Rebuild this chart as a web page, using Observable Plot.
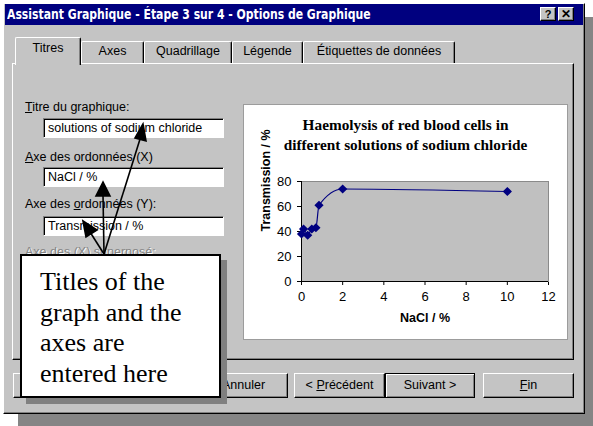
<!DOCTYPE html>
<html><head><meta charset="utf-8">
<script src="https://cdn.jsdelivr.net/npm/d3@7"></script>
<script src="https://cdn.jsdelivr.net/npm/@observablehq/plot@0.6"></script>
<style>
html,body{margin:0;padding:0;background:#fff;}
#root{position:relative;width:593px;height:426px;overflow:hidden;font-family:"Liberation Sans",Arial,sans-serif;font-size:12.5px;color:#000;background:#fff;}
.a{position:absolute;box-sizing:border-box;}
.dlg{background:#c4c4c4;}
.raised{border-top:1px solid #fff;border-left:1px solid #fff;border-right:1px solid #000;border-bottom:1px solid #000;box-shadow:inset -1px -1px 0 #808080;}
.tab{background:#c4c4c4;border-top:1px solid #fff;border-left:1px solid #fff;border-right:1px solid #000;box-shadow:inset -1px 0 0 #808080;text-align:center;line-height:18px;border-radius:2px 2px 0 0;}
.field{background:#fff;border-top:1px solid #808080;border-left:1px solid #808080;border-right:1px solid #fff;border-bottom:1px solid #fff;box-shadow:inset 1px 1px 0 #000;padding-left:4px;line-height:18px;white-space:nowrap;overflow:hidden;}
.field.dis{background:#c4c4c4;}
.lbl{line-height:15px;white-space:nowrap;}
.btn{text-align:center;line-height:23px;}
.u{text-decoration:underline;}
</style></head>
<body><div id="root">
  <div class="a" style="left:18px;top:17px;width:600px;height:420px;background:#858585;"></div>
  <div class="a dlg raised" style="left:3px;top:3px;width:582px;height:411px;"></div>
  <div class="a" style="left:5px;top:4px;width:578px;height:21px;background:#00007f;"></div>
  <div class="a" style="left:7px;top:4px;height:21px;line-height:21px;color:#fff;font-family:'Liberation Sans Narrow','DejaVu Sans Condensed',sans-serif;font-weight:bold;font-size:14px;white-space:nowrap;transform:scaleX(0.862);transform-origin:0 50%;">Assistant Graphique - Étape 3 sur 4 - Options de Graphique</div>
  <div class="a dlg raised" style="left:540px;top:7px;width:16px;height:14px;font-weight:bold;font-size:11px;line-height:12px;text-align:center;">?</div>
  <div class="a dlg raised" style="left:558px;top:7px;width:16px;height:14px;font-weight:bold;font-size:12px;line-height:12px;text-align:center;">✕</div>

  <div class="a dlg" style="left:12px;top:63px;width:562px;height:297px;border-top:1px solid #fff;border-left:1px solid #fff;border-right:1px solid #000;border-bottom:1px solid #000;box-shadow:inset -1px -1px 0 #808080;"></div>
  <div class="a tab" style="left:81px;top:41px;width:63px;height:22px;">Axes</div>
  <div class="a tab" style="left:144px;top:41px;width:88px;height:22px;">Quadrillage</div>
  <div class="a tab" style="left:232px;top:41px;width:71px;height:22px;">Légende</div>
  <div class="a tab" style="left:303px;top:41px;width:152px;height:22px;">Étiquettes de données</div>
  <div class="a tab" style="left:15px;top:37px;width:66px;height:28px;line-height:20px;z-index:2;">Titres</div>

  <div class="a lbl" style="left:25px;top:100px;"><span class="u">T</span>itre du graphique:</div>
  <div class="a field" style="left:43px;top:118px;width:181px;height:20px;">solutions of sodium chloride</div>
  <div class="a lbl" style="left:25px;top:150px;"><span class="u">A</span>xe des ordonnées (X)</div>
  <div class="a field" style="left:43px;top:167px;width:181px;height:20px;">NaCl / %</div>
  <div class="a lbl" style="left:25px;top:197px;">Axe des <span class="u">o</span>rdonnées (Y):</div>
  <div class="a field" style="left:43px;top:216px;width:181px;height:20px;">Transmission / %</div>
  <div class="a lbl" style="left:25px;top:245px;color:#858585;text-shadow:1px 1px 0 #fff;">Axe des (X) superposé:</div>
  <div class="a field dis" style="left:43px;top:263px;width:183px;height:21px;"></div>
  <div class="a field dis" style="left:43px;top:313px;width:183px;height:21px;"></div>

  <div class="a" id="chartbox" style="left:244px;top:105px;width:323px;height:234px;background:#fff;box-shadow:0 0 0 1px #9c9c9c;">
    <div class="a" id="ctitle" style="left:0;top:10px;width:323px;text-align:center;font-family:'Liberation Serif','Times New Roman',serif;font-weight:bold;font-size:15.3px;line-height:19.5px;"></div>
    <div class="a" id="plot" style="left:0;top:0;"></div>
  </div>

  <div class="a dlg raised" style="left:13px;top:373px;width:60px;height:25px;"></div>
  <div class="a dlg raised btn" style="left:199px;top:373px;width:89px;height:25px;">Annuler</div>
  <div class="a dlg raised btn" style="left:294px;top:373px;width:91px;height:25px;">&lt; <span class="u">P</span>récédent</div>
  <div class="a dlg btn" style="left:385px;top:373px;width:90px;height:25px;border:1px solid #000;box-shadow:inset 1px 1px 0 #fff,inset -1px -1px 0 #808080;line-height:23px;">Suivant &gt;</div>
  <div class="a dlg raised btn" style="left:483px;top:373px;width:91px;height:25px;"><span class="u">F</span>in</div>

  <div class="a" style="left:20px;top:254px;width:201px;height:144px;background:#fff;border:2px solid #000;box-shadow:6px 6px 0 #808080;font-family:'Liberation Serif','Times New Roman',serif;font-size:26px;line-height:30.5px;padding:11px 0 0 18px;z-index:3;">Titles of the<br>graph and the<br>axes are<br>entered here</div>

  <svg class="a" width="593" height="426" style="left:0;top:0;z-index:4;pointer-events:none;">
    <g stroke="#000" stroke-width="1.6" fill="#000">
      <line x1="104" y1="254" x2="141" y2="136"/>
      <polygon points="143,124 135,138 146,141"/>
      <line x1="104" y1="254" x2="103" y2="195"/>
      <polygon points="103,182 96,196 110,196"/>
      <line x1="104" y1="254" x2="90" y2="232"/>
      <polygon points="83,221 86,237 97,230"/>
    </g>
  </svg>
</div>
<script>
const chartTitle = ["Haemolysis of red blood cells in", "different solutions of sodium chloride"];
const xLabel = "NaCl / %";
const yLabel = "Transmission / %";
const nacl = [0, 0.1, 0.3, 0.5, 0.7, 0.85, 2, 10];
const transmission = [38, 42, 37, 42, 43, 61, 74, 72];
const xTicks = [0, 2, 4, 6, 8, 10, 12];
const yTicks = [0, 20, 40, 60, 80];

document.getElementById("ctitle").innerHTML = chartTitle.join("<br>");
const data = nacl.map((x, i) => ({x, y: transmission[i]}));

const chart = Plot.plot({
  width: 323, height: 234,
  marginLeft: 57, marginRight: 19, marginTop: 76, marginBottom: 58,
  style: {background: "transparent", fontFamily: "'Liberation Sans', Arial, sans-serif", fontSize: "13px", color: "#000", overflow: "visible"},
  x: {domain: [0, 12], ticks: xTicks, tickSize: 4, tickPadding: 6, label: null},
  y: {domain: [0, 80], ticks: yTicks, tickSize: 4, tickPadding: 6, label: null},
  marks: [
    Plot.frame({fill: "#c0c0c0", stroke: "#8a8a8a"}),
    Plot.ruleX([0], {stroke: "#000"}),
    Plot.ruleY([0], {stroke: "#000"}),
    Plot.line(data, {x: "x", y: "y", curve: "monotone-x", stroke: "#000080", strokeWidth: 1.2}),
    Plot.dot(data, {x: "x", y: "y", symbol: "diamond2", r: 3.2, fill: "#000080", stroke: "#000080"}),
    Plot.text([xLabel], {frameAnchor: "bottom", dy: 40, text: d => d, fontWeight: "bold", fontSize: 12.5}),
    Plot.text([yLabel], {frameAnchor: "left", dx: -36, rotate: -90, text: d => d, fontWeight: "bold", fontSize: 12.5})
  ]
});
document.getElementById("plot").appendChild(chart);
</script>
</body></html>
